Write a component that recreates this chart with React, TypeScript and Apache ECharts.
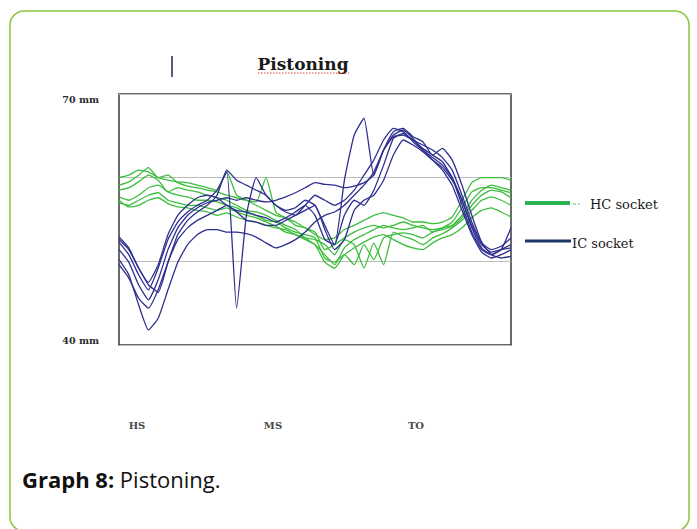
import React, { useEffect, useRef } from "react";
import * as echarts from "echarts";

// gait cycle phase (% of stride), shared by all series
const phase: number[] = Array.from({ length: 41 }, (_, i) => i * 2.5);

const hc1 = [60.0,60.3,60.9,60.7,60.0,59.7,59.5,59.4,59.1,58.8,58.5,60.7,57.9,57.3,56.7,56.1,55.5,55.2,54.3,54.0,53.2,52.6,52.8,53.8,54.3,54.9,55.5,55.8,55.5,55.2,54.7,54.7,54.5,54.7,55.3,57.3,59.4,60.0,60.0,60.0,59.7];
const hc2 = [59.1,59.5,60.3,61.2,60.0,60.3,59.4,59.0,58.8,58.5,58.3,57.9,57.6,57.3,57.1,60.0,55.9,55.2,54.7,54.0,53.5,51.4,52.0,52.8,53.5,54.0,54.3,54.0,54.3,54.7,54.3,54.0,53.8,54.0,54.7,56.4,58.3,58.8,58.8,58.5,58.2];
const hc3 = [58.5,58.8,59.5,60.3,59.7,58.3,58.8,58.5,58.3,57.9,57.6,57.3,56.7,56.1,55.9,55.5,54.9,54.3,53.8,52.8,52.0,50.8,49.6,51.6,52.6,53.2,53.8,54.3,54.0,53.8,54.0,54.3,53.5,54.0,54.3,55.5,57.3,58.5,59.1,58.8,58.5];
const hc4 = [57.7,57.3,57.9,58.8,59.1,58.3,57.9,57.7,57.3,57.3,57.1,56.7,56.4,55.8,55.5,54.9,54.7,54.0,53.5,53.2,52.8,50.4,49.9,50.8,49.6,52.0,50.2,52.8,53.2,53.4,53.2,52.8,53.5,53.8,54.2,55.2,56.7,57.9,58.5,58.3,57.6];
const hc5 = [57.0,56.7,57.3,57.9,58.2,57.3,57.0,56.7,56.7,56.4,56.1,56.4,55.9,55.5,55.2,54.7,54.2,53.5,53.2,52.8,52.6,52.0,50.8,52.6,52.0,49.2,52.2,49.6,53.5,53.0,52.6,52.0,52.8,53.3,54.0,54.9,56.1,57.3,57.7,57.3,56.7];
const hc6 = [57.3,56.5,56.7,57.3,57.6,56.9,56.5,56.4,56.1,55.9,55.5,55.8,55.3,54.9,54.7,54.3,54.0,53.8,53.2,52.6,52.0,49.9,49.2,50.8,51.6,52.3,52.9,53.2,52.6,52.0,51.6,51.4,52.2,52.8,53.2,54.0,55.2,56.1,56.4,55.9,55.3];

const ic1 = [52.3,50.8,48.4,46.6,49.2,52.6,54.7,55.9,56.7,57.3,58.5,60.7,44.4,55.5,60.0,57.9,56.7,56.1,56.4,57.3,56.7,54.3,52.0,55.5,57.3,56.7,58.5,61.5,64.7,65.3,64.5,63.5,62.7,61.9,60.0,56.7,53.5,51.4,50.8,51.4,52.0];
const ic2 = [50.2,48.4,44.8,41.8,43.2,46.6,49.9,52.0,53.2,53.8,53.8,53.5,53.5,53.3,52.9,52.2,51.6,52.0,52.6,53.5,54.7,55.5,55.9,56.7,57.9,59.1,60.7,63.3,65.1,65.7,64.7,63.3,62.1,60.9,59.1,56.1,53.2,51.1,50.4,50.8,51.4];
const ic3 = [52.9,51.6,49.2,47.5,49.6,53.2,55.5,56.7,57.6,57.9,57.6,56.7,56.1,55.9,55.5,55.2,54.7,55.2,55.9,56.7,55.5,52.6,52.0,59.7,65.1,67.1,60.3,63.3,64.9,65.1,64.5,63.9,63.3,62.4,60.9,57.9,54.7,52.2,51.4,51.8,52.8];
const ic4 = [51.4,49.9,47.2,45.4,47.8,51.4,54.0,55.5,56.4,57.0,57.3,57.6,57.3,57.6,57.3,57.1,57.3,57.7,58.2,58.8,59.4,59.2,59.1,58.8,59.0,59.4,60.3,63.3,65.5,65.9,64.9,64.3,62.7,63.5,62.1,59.1,55.5,52.3,50.8,50.4,50.6];
const ic5 = [49.6,48.0,45.6,44.4,46.6,49.9,52.6,54.0,54.9,55.5,56.1,56.7,55.9,54.9,54.7,54.3,54.3,54.9,55.5,56.1,56.7,53.8,51.4,52.6,56.1,57.3,57.9,59.7,62.7,64.5,63.9,63.1,62.1,61.2,59.7,57.3,54.0,51.6,50.8,51.4,54.0];
const ic6 = [52.6,51.4,49.2,47.2,46.3,49.9,53.2,54.9,55.9,56.7,57.9,60.9,59.7,59.1,58.5,57.9,56.7,55.9,55.5,56.7,57.9,57.3,56.7,57.3,58.5,60.3,62.1,64.5,65.9,65.5,64.3,63.3,62.4,61.5,60.0,57.3,54.3,52.0,51.1,51.4,51.6];

const hcSeries = [hc1, hc2, hc3, hc4, hc5, hc6];
const icSeries = [ic1, ic2, ic3, ic4, ic5, ic6];
const yTicks = [40, 50, 60, 70];
const phaseLabels = ["HS", "MS", "TO"];

const GREEN = "#3dbd3d";
const BLUE = "#2f2f8f";

export default function App() {
  const ref = useRef<HTMLDivElement>(null);
  useEffect(() => {
    if (!ref.current) return;
    const chart = echarts.init(ref.current, undefined, { renderer: "svg" });
    const mk = (arr: number[], name: string, color: string) => ({
      type: "line",
      name,
      data: arr.map((v, i) => [phase[i], v]),
      showSymbol: false,
      smooth: 0.15,
      lineStyle: { color, width: 1.3 },
      silent: true,
    });
    const serif = "DejaVu Serif";
    chart.setOption({
      animation: false,
      backgroundColor: "#ffffff",
      grid: {
        left: 119,
        top: 94,
        width: 392,
        height: 251,
        show: true,
        borderColor: "#3a3a3a",
        borderWidth: 1.5,
        backgroundColor: "transparent",
      },
      xAxis: {
        type: "value",
        min: 0,
        max: 100,
        axisLine: { show: false },
        axisTick: { show: false },
        axisLabel: { show: false },
        splitLine: { show: false },
      },
      yAxis: {
        type: "value",
        min: yTicks[0],
        max: yTicks[yTicks.length - 1],
        interval: 10,
        axisLine: { show: false },
        axisTick: { show: false },
        axisLabel: { show: false },
        splitLine: { show: true, lineStyle: { color: "#bdbdbd", width: 1 } },
      },
      series: [
        ...hcSeries.map((s) => mk(s, "HC socket", GREEN)),
        ...icSeries.map((s) => mk(s, "IC socket", BLUE)),
      ],
      graphic: [
        {
          type: "rect",
          shape: { x: 10, y: 11, width: 679, height: 520, r: 14 },
          style: { fill: "none", stroke: "#8cc63f", lineWidth: 1.5 },
          z: -10,
        },
        {
          type: "line",
          shape: { x1: 172, y1: 56, x2: 172, y2: 77 },
          style: { stroke: "#1e2450", lineWidth: 1.5 },
        },
        {
          type: "text",
          x: 303,
          y: 64,
          style: {
            text: "Pistoning",
            font: `bold 17px "${serif}"`,
            fill: "#1a1a1a",
            align: "center",
            verticalAlign: "middle",
          },
        },
        {
          type: "line",
          shape: { x1: 258, y1: 73, x2: 349, y2: 73 },
          style: { stroke: "#d94040", lineWidth: 1, lineDash: [1.5, 1.5] },
        },
        {
          type: "text",
          x: 99,
          y: 99,
          style: { text: `${yTicks[3]} mm`, font: `bold 9.5px "${serif}"`, fill: "#2a2a2a", align: "right", verticalAlign: "middle" },
        },
        {
          type: "text",
          x: 99,
          y: 340,
          style: { text: `${yTicks[0]} mm`, font: `bold 9.5px "${serif}"`, fill: "#2a2a2a", align: "right", verticalAlign: "middle" },
        },
        ...phaseLabels.map((t, i) => ({
          type: "text",
          x: [137, 273, 416][i],
          y: 425,
          style: { text: t, font: `bold 10px "${serif}"`, fill: "#4a4a4a", align: "center", verticalAlign: "middle" },
        })),
        {
          type: "line",
          shape: { x1: 525, y1: 203, x2: 570, y2: 203 },
          style: { stroke: "#2fb85a", lineWidth: 4 },
        },
        {
          type: "line",
          shape: { x1: 525, y1: 203, x2: 570, y2: 203 },
          style: { stroke: "#1e9a45", lineWidth: 1.2, lineDash: [2, 1] },
        },
        {
          type: "line",
          shape: { x1: 573, y1: 204, x2: 580, y2: 204 },
          style: { stroke: "#55c070", lineWidth: 1.2, lineDash: [3, 2] },
        },
        {
          type: "text",
          x: 590,
          y: 204,
          style: { text: "HC socket", font: `13px "${serif}"`, fill: "#1a1a1a", verticalAlign: "middle" },
        },
        {
          type: "line",
          shape: { x1: 525, y1: 241, x2: 571, y2: 241 },
          style: { stroke: "#1f3768", lineWidth: 3 },
        },
        {
          type: "text",
          x: 572,
          y: 243,
          style: { text: "IC socket", font: `13px "${serif}"`, fill: "#1a1a1a", verticalAlign: "middle" },
        },
        {
          type: "text",
          x: 22,
          y: 479,
          style: {
            text: "{b|Graph 8:}{n| Pistoning.}",
            verticalAlign: "middle",
            rich: {
              b: { font: 'bold 22px "Open Sans"', fill: "#111" },
              n: { font: '22px "Open Sans"', fill: "#111" },
            },
          },
        },
      ],
    });
    return () => chart.dispose();
  }, []);
  return (
    <div
      ref={ref}
      style={{ position: "fixed", left: 0, top: 0, width: 697, height: 529, background: "#fff" }}
    />
  );
}
